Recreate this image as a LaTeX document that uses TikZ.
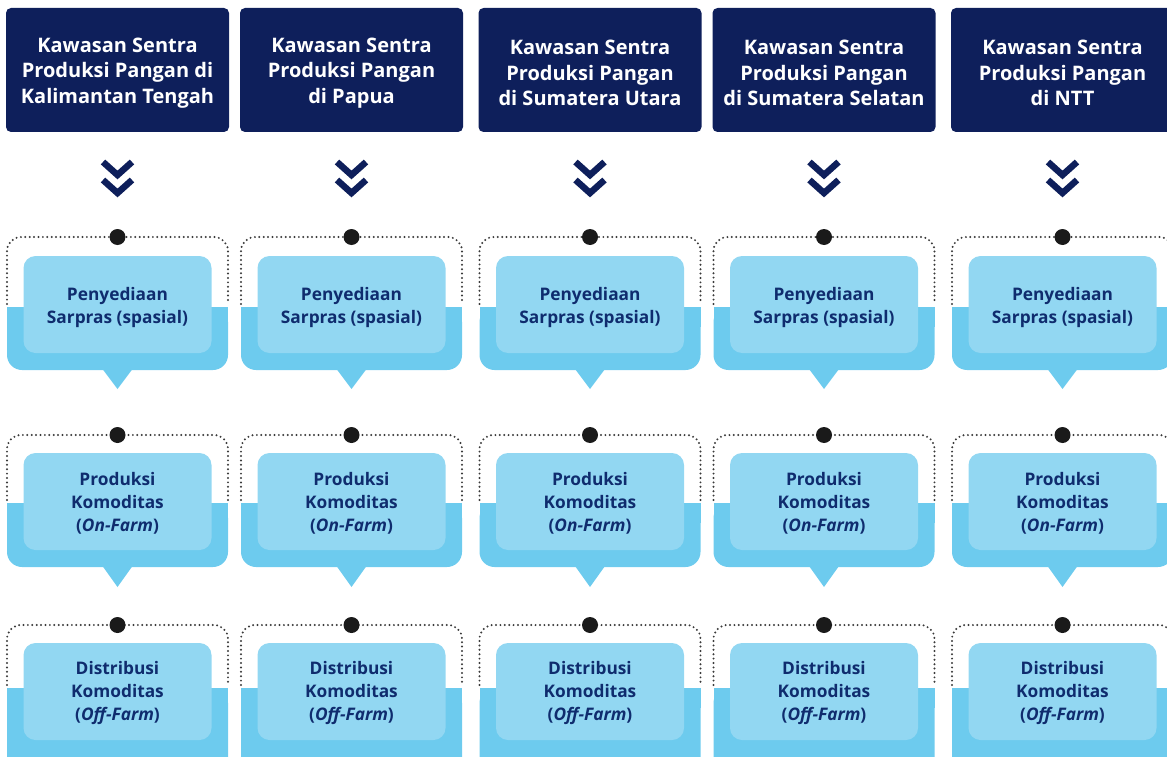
\documentclass[tikz,border=0pt]{standalone}
\usepackage{fontspec}
\setmainfont{Open Sans}
\definecolor{navy}{HTML}{0E1F5B}
\definecolor{bandc}{HTML}{6DCBEE}
\definecolor{innerc}{HTML}{92D7F2}
\definecolor{txtc}{HTML}{0F2C6E}
\definecolor{dotc}{HTML}{1A1A1A}
\definecolor{dashc}{HTML}{3A3A3A}
\begin{document}
\begin{tikzpicture}[x=1pt,y=-1pt,
  header/.style={fill=navy, rounded corners=5pt, minimum width=223pt, minimum height=124pt,
    text=white, align=center, inner sep=0pt},
  headtext/.style={text=white, font=\bfseries\fontsize{20}{25.5}\selectfont, align=center, inner sep=0pt},
  innerbox/.style={fill=innerc, rounded corners=12pt, minimum width=188pt, minimum height=97pt, inner sep=0pt},
  boxtext/.style={text=txtc, font=\bfseries\fontsize{17.3}{23}\selectfont, align=center, inner sep=0pt},
  bracketline/.style={draw=dashc, line width=2.2pt, line cap=round, dash pattern=on 0pt off 4.4pt, rounded corners=14pt},
  chevron/.style={draw=navy, line width=6.5pt, line cap=butt, line join=miter},
  knob/.style={circle, fill=dotc, minimum size=16pt, inner sep=0pt}
]
\useasboundingbox (0,0) rectangle (1167,757);
\clip (0,0) rectangle (1167,757);
\foreach \cx/\i/\txt in {
  117.5/1/{Kawasan Sentra\\Produksi Pangan di\\Kalimantan Tengah},
  351.5/2/{Kawasan Sentra\\Produksi Pangan\\di Papua},
  590/3/{Kawasan Sentra\\Produksi Pangan\\di Sumatera Utara},
  824/4/{Kawasan Sentra\\Produksi Pangan\\di Sumatera Selatan},
  1062.5/5/{Kawasan Sentra\\Produksi Pangan\\di NTT}}{
  \node[header] (h\i) at (\cx,70) {};
  \node[headtext] (ht\i) at (\cx,73) {\txt};
  \draw[chevron] (\cx-14.5,162) -- (\cx,175) -- (\cx+14.5,162);
  \draw[chevron] (\cx-14.5,180) -- (\cx,193) -- (\cx+14.5,180);
  \foreach \r/\dy/\bt/\bb/\ib/\tip/\tb/\lab in {
    1/237/307/370/304.5/389/307.5/{Penyediaan\\Sarpras (spasial)},
    2/435/503/567/501.5/587/503.5/{Produksi\\Komoditas\\(\textit{On-Farm})},
    3/625/688/790/691.5/810/693/{Distribusi\\Komoditas\\(\textit{Off-Farm})}}{
    \draw[bracketline] (\cx-110.5,\bt-3) -- (\cx-110.5,\dy) -- (\cx+110.5,\dy) -- (\cx+110.5,\bt-3);
    \fill[bandc, rounded corners=15pt] (\cx-110.5,\bt) rectangle (\cx+110.5,\bb);
    \fill[bandc] (\cx-110.5,\bt) rectangle (\cx+110.5,\bt+20);
    \fill[bandc] (\cx-15,\bb-1) -- (\cx+15,\bb-1) -- (\cx,\tip) -- cycle;
    \node[innerbox] (b\i r\r) at (\cx,\ib) {};
    \node[boxtext] (t\i r\r) at (\cx,\tb) {\lab};
    \node[knob] (k\i r\r) at (\cx,\dy) {};
  }
}
\end{tikzpicture}
\end{document}
